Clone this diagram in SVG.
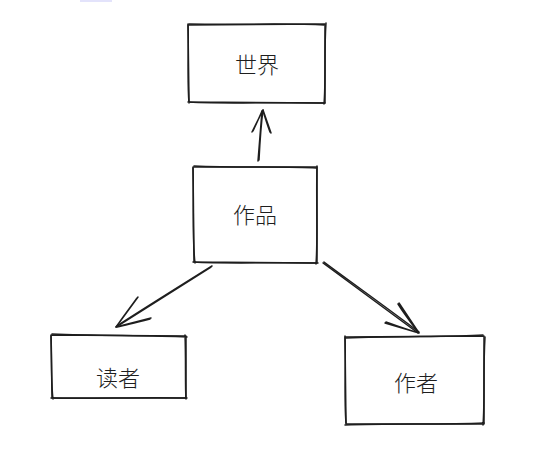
<svg xmlns="http://www.w3.org/2000/svg" width="553" height="456" viewBox="0 0 553 456">
<style>
.b{fill:none;stroke:#1e1e1e;stroke-width:1.5;stroke-linecap:round;stroke-linejoin:round}
.t{font-family:"Noto Sans CJK SC","Noto Sans",sans-serif;font-size:22px;font-weight:300;fill:#1e1e1e;text-anchor:middle;dominant-baseline:central}
</style>
<rect width="553" height="456" fill="#ffffff"/>
<rect x="80" y="0" width="32" height="2" fill="#e3e3fb"/>
<g id="world">
<path class="b" d="M188 25 L325 24 L325 103 L189 102 Z"/>
<path class="b" d="M189 24 C240 25 290 23 324 25 M326 23 C324 50 326 80 324 104 M325 103 C280 102 230 104 188 102 M188 24 C189 50 187 80 189 103"/>
<text class="t" x="257" y="63">世界</text>
</g>
<g id="work">
<path class="b" d="M193 167 L317 167 L317 263 L194 262 Z"/>
<path class="b" d="M194 166 C240 168 290 166 316 168 M317 166 C316 200 318 240 316 264 M318 263 C270 262 230 264 193 262 M193 168 C194 200 192 240 195 263"/>
<text class="t" x="255" y="213">作品</text>
</g>
<g id="reader">
<path class="b" d="M51 335 L186 336 L186 398 L52 398 Z"/>
<path class="b" d="M52 334 C100 336 150 335 187 337 M185 335 C186 360 185 385 186 399 M187 398 C140 397 90 399 51 398 M51 336 C52 360 51 385 53 399"/>
<text class="t" x="118" y="376">读者</text>
</g>
<g id="author">
<path class="b" d="M345 337 L484 336 L484 424 L346 424 Z"/>
<path class="b" d="M346 338 C400 336 450 337 483 335 M485 337 C483 370 485 400 483 425 M484 423 C440 425 390 423 345 425 M345 336 C346 370 344 400 346 423"/>
<text class="t" x="416" y="381">作者</text>
</g>
<g id="connectors">
<path class="b" d="M258 161 L262 111 M259 160 C260 140 261 125 263 110"/>
<path class="b" d="M252 132 L263 110 L271 133 M253 131 C257 122 260 116 262 111 M270 132 C267 124 265 117 263 111"/>
<path class="b" d="M211 267 L116 327 M212 266 C180 286 140 311 117 326"/>
<path class="b" d="M138 297 L116 327 L151 318 M137 298 C130 308 122 318 117 326 M150 319 C138 322 126 325 117 327"/>
<path class="b" d="M323 263 L418 333 M324 262 C355 285 390 310 419 332"/>
<path class="b" d="M399 303 L419 333 L385 323 M398 304 C405 315 412 324 418 332 M386 322 C397 326 408 330 419 333"/>
</g>
</svg>
